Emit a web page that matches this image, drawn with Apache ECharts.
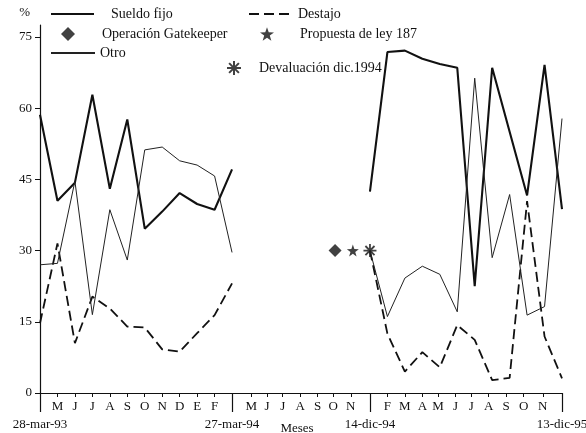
<!DOCTYPE html>
<html><head><meta charset="utf-8">
<script src="https://cdn.jsdelivr.net/npm/echarts@6/dist/echarts.min.js"></script>
<style>html,body{margin:0;padding:0;background:#fff}#c{width:586px;height:433px}</style>
</head><body><div id="c"></div>
<script>
// x positions in month steps from 28-mar-93
const xLeft  = [0,1,2,3,4,5,6,7,8,9,10,11];
const xRight = [18.9,19.9,20.9,21.9,22.9,23.9,24.9,25.9,26.9,27.9,28.9,29.9];

const sueldoLeft  = [58.6,40.5,44.3,62.8,43.0,57.6,34.6,38.2,42.1,39.8,38.6,47.1];
const sueldoRight = [42.4,71.8,72.1,70.4,69.3,68.5,22.5,68.5,55.0,41.6,69.1,38.7];
const destajoLeft  = [14.7,31.5,10.5,20.3,17.8,14.0,13.8,9.2,8.7,12.6,16.4,23.1];
const destajoRight = [30.0,12.5,4.5,8.6,5.4,14.3,11.2,2.7,3.2,40.4,11.9,3.1];
const otroLeft  = [27.0,27.3,44.6,16.5,38.6,28.0,51.2,51.8,48.9,48.0,45.7,29.6];
const otroRight = [30.0,16.1,24.2,26.7,25.0,17.1,66.3,28.5,41.8,16.4,18.2,57.8];

const eventNames = ['Operación Gatekeeper','Propuesta de ley 187','Devaluación dic.1994'];
const eventX = [16.9, 17.92, 18.9];
const eventY = [30, 30, 30];

const monthPos = [1,2,3,4,5,6,7,8,9,10, 12.1,13,13.9,14.9,15.9,16.8,17.8, 19.9,20.9,21.9,22.8,23.8,24.7,25.7,26.7,27.7,28.8];
const monthLabels = ['M','J','J','A','S','O','N','D','E','F', 'M','J','J','A','S','O','N', 'F','M','A','M','J','J','A','S','O','N'];
const datePos = [0, 11, 18.9, 29.9];
const dateLabels = ['28-mar-93','27-mar-94','14-dic-94','13-dic-95'];
const yTicks = [0,15,30,45,60,75];

function pairs(xs, ys){ return xs.map((x,i)=>[x, ys[i]]); }
function joined(xa, ya, xb, yb){ return pairs(xa,ya).concat([[ (xa[xa.length-1]+xb[0])/2, null ]]).concat(pairs(xb,yb)); }
function lookup(pos, labels, v){ let bi=0, bd=1e9; pos.forEach((p,i)=>{const d=Math.abs(p-v); if(d<bd){bd=d;bi=i;}}); return labels[bi]; }

const FONT = 'Liberation Serif';
const starPath = 'path://M0,-10 L2.35,-3.24 L9.51,-3.09 L3.8,1.24 L5.88,8.09 L0,4 L-5.88,8.09 L-3.8,1.24 L-9.51,-3.09 L-2.35,-3.24 Z';
const asterPath = 'path://M0,-10 L0,10 M-10,0 L10,0 M-7,-7 L7,7 M-7,7 L7,-7';

const chart = echarts.init(document.getElementById('c'), null, {renderer:'canvas'});
const txt = {fontFamily: FONT, fontSize: 14, color: '#111'};
function lg(name, left, top, w, h, pad, hideSymbol){
  const o = {data:[name], left:left, top:top, itemWidth:w, itemHeight:h, orient:'horizontal', padding:0,
    textStyle: Object.assign({}, txt, {padding:[0,0,0,pad]}), selectedMode:false};
  if (hideSymbol) o.itemStyle = {opacity: 0};
  return o;
}
chart.setOption({
  animation: false,
  backgroundColor: '#fff',
  grid: {left: 40, right: 24, top: 25, bottom: 40, outerBoundsMode: 'none', containLabel: false},
  legend: [
    lg('Sueldo fijo', 50, 7, 43, 14, 12, true),
    lg('Destajo', 248, 7, 44, 14, 0, true),
    lg('Operación Gatekeeper', 61, 27, 14, 14, 22, false),
    lg('Propuesta de ley 187', 260, 27, 14, 14, 21, false),
    lg('Otro', 50, 46, 44, 14, 0, true),
    lg('Devaluación dic.1994', 226, 60, 14, 14, 13, false)
  ],
  xAxis: [
    {type:'value', min:0, max:29.9, position:'bottom',
     axisLine:{show:true, lineStyle:{color:'#111', width:1}},
     axisTick:{show:true, customValues: monthPos, length:4, lineStyle:{color:'#111'}},
     axisLabel:{show:true, customValues: monthPos, margin:7,
       formatter: v => lookup(monthPos, monthLabels, v),
       fontFamily: FONT, fontSize: 13, color:'#111'},
     splitLine:{show:false}},
    {type:'value', min:0, max:29.9, position:'bottom',
     name:'Meses', nameLocation:'middle', nameGap:29, nameMoveOverlap:false,
     nameTextStyle:{fontFamily: FONT, fontSize: 13, color:'#111', padding:[0,8,0,0]},
     axisLine:{show:false},
     axisTick:{show:true, customValues: datePos, length:19, lineStyle:{color:'#111', width:1.2}},
     axisLabel:{show:true, customValues: datePos, margin:25,
       formatter: v => lookup(datePos, dateLabels, v),
       fontFamily: FONT, fontSize: 13, color:'#111'},
     splitLine:{show:false}}
  ],
  yAxis: {type:'value', min:0, max:77.5,
    name:'%', nameLocation:'end', nameGap:6,
    nameTextStyle:{fontFamily: FONT, fontSize: 13, color:'#111', align:'right', padding:[0,10,0,0]},
    axisLine:{show:true, lineStyle:{color:'#111', width:1.2}},
    axisTick:{show:true, customValues: yTicks, length:5, lineStyle:{color:'#111'}},
    axisLabel:{show:true, customValues: yTicks, margin:8, fontFamily: FONT, fontSize: 13, color:'#111'},
    splitLine:{show:false}},
  series: [
    {name:'Sueldo fijo', type:'line', data: joined(xLeft, sueldoLeft, xRight, sueldoRight),
     symbol:'none', connectNulls:false, lineStyle:{color:'#111', width:2.1}, itemStyle:{color:'#111'}},
    {name:'Destajo', type:'line', data: joined(xLeft, destajoLeft, xRight, destajoRight),
     symbol:'none', connectNulls:false, lineStyle:{color:'#111', width:1.8, type:[10,5]}, itemStyle:{color:'#111'}},
    {name:'Otro', type:'line', data: joined(xLeft, otroLeft, xRight, otroRight),
     symbol:'none', connectNulls:false, lineStyle:{color:'#222', width:1}, itemStyle:{color:'#222'}},
    {name: eventNames[0], type:'scatter', data:[[eventX[0], eventY[0]]], symbol:'diamond', symbolSize:13,
     itemStyle:{color:'#111'}},
    {name: eventNames[1], type:'scatter', data:[[eventX[1], eventY[1]]], symbol: starPath, symbolSize:12,
     itemStyle:{color:'#111'}},
    {name: eventNames[2], type:'scatter', data:[[eventX[2], eventY[2]]], symbol: asterPath, symbolSize:13,
     itemStyle:{color:'#111', borderColor:'#111', borderWidth:1.8}}
  ]
});
</script></body></html>
